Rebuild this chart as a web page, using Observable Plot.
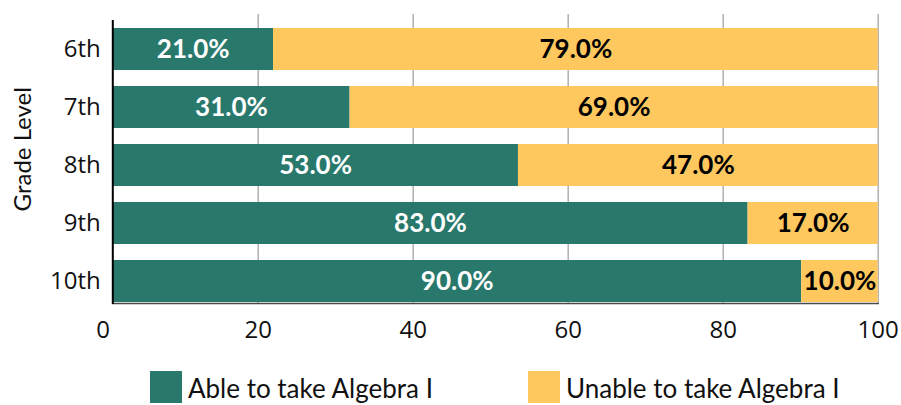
<!DOCTYPE html>
<html>
<head>
<meta charset="utf-8">
<script src="https://cdn.jsdelivr.net/npm/d3@7"></script>
<script src="https://cdn.jsdelivr.net/npm/@observablehq/plot@0.6"></script>
<style>
  html, body { margin: 0; padding: 0; background: white; overflow: hidden; }
  #chart { position: relative; width: 901px; height: 365px; }
  #chart svg { position: absolute; top: 0; left: 0; }
  #legend { position: relative; width: 901px; height: 40px; font-family: Lato, sans-serif; font-size: 26px; color: #111; }
  .item { position: absolute; top: 6px; display: flex; align-items: flex-start; }
  .sw { width: 32px; height: 32px; margin-right: 6px; }
  .lab { line-height: 32px; margin-top: 1px; white-space: nowrap; }
</style>
</head>
<body>
<div id="chart"></div>
<div id="legend"></div>
<script>
const grades = ["6th", "7th", "8th", "9th", "10th"];
const able = [21, 31, 53, 83, 90];
const unable = [79, 69, 47, 17, 10];
const statuses = ["Able to take Algebra I", "Unable to take Algebra I"];
const colors = ["#29786c", "#fec85f"];
const xTicks = [0, 20, 40, 60, 80, 100];
const gridTicks = [20, 40, 60, 80, 100];
const yTitle = "Grade Level";

const rows = [];
grades.forEach((g, i) => {
  rows.push({grade: g, status: statuses[0], value: able[i]});
  rows.push({grade: g, status: statuses[1], value: unable[i]});
});

const W = 901, H = 365;
const tickFont = {fontFamily: "'Open Sans', sans-serif", fontSize: "24px"};

// Grid and x tick labels
const gridPlot = Plot.plot({
  width: W, height: H,
  marginTop: 14, marginBottom: 62, marginLeft: 102.7, marginRight: 23.3,
  x: {domain: [0, 100]},
  style: {...tickFont, color: "#111", background: "white"},
  marks: [
    Plot.ruleX(gridTicks, {stroke: "#b0b0b0", strokeWidth: 1.5, strokeOpacity: 1}),
    Plot.axisX(xTicks, {tickSize: 0, tickPadding: 17, label: null, fill: "#111"})
  ]
});

// Bars, labels, y axis
const barPlot = Plot.plot({
  width: W, height: H,
  marginTop: 26.5, marginBottom: 62, marginLeft: 112.3, marginRight: 23.3,
  x: {domain: [0, 100], axis: null},
  y: {domain: grades, paddingInner: 0.28, paddingOuter: 0, label: null},
  color: {domain: statuses, range: colors},
  style: {...tickFont, color: "#111", background: "transparent"},
  marks: [
    Plot.barX(rows, Plot.stackX({x: "value", y: "grade", fill: "status", order: statuses})),
    Plot.text(rows, Plot.stackX({
      x: "value", y: "grade", z: "status", order: statuses,
      text: d => d.status === statuses[0] ? d.value.toFixed(1) + "%" : "",
      fill: "white", fontFamily: "Lato, sans-serif", fontWeight: "bold", fontSize: 26
    })),
    Plot.text(rows, Plot.stackX({
      x: "value", y: "grade", z: "status", order: statuses,
      text: d => d.status === statuses[1] ? d.value.toFixed(1) + "%" : "",
      fill: "black", fontFamily: "Lato, sans-serif", fontWeight: "bold", fontSize: 26
    })),
    Plot.axisY({tickSize: 0, tickPadding: 12, label: null, fill: "#111"}),
    Plot.frame({anchor: "bottom", stroke: "#4a4a4a", strokeWidth: 1.5}),
    Plot.ruleX([0], {stroke: "black", strokeWidth: 2, insetTop: -6.5, insetBottom: -1}),
    Plot.text([yTitle], {
      frameAnchor: "left", textAnchor: "middle", lineAnchor: "middle",
      rotate: -90, dx: -89.8, dy: -16,
      fontFamily: "Lato, sans-serif", fontSize: 24, fill: "#111"
    })
  ]
});

const chart = document.getElementById("chart");
chart.append(gridPlot);
chart.append(barPlot);

const legend = document.getElementById("legend");
const lefts = ["150px", "528px"];
statuses.forEach((s, i) => {
  const item = document.createElement("div");
  item.className = "item";
  item.style.left = lefts[i];
  const sw = document.createElement("div");
  sw.className = "sw";
  sw.style.background = colors[i];
  const lab = document.createElement("div");
  lab.className = "lab";
  lab.textContent = s;
  item.append(sw, lab);
  legend.append(item);
});
</script>
</body>
</html>
